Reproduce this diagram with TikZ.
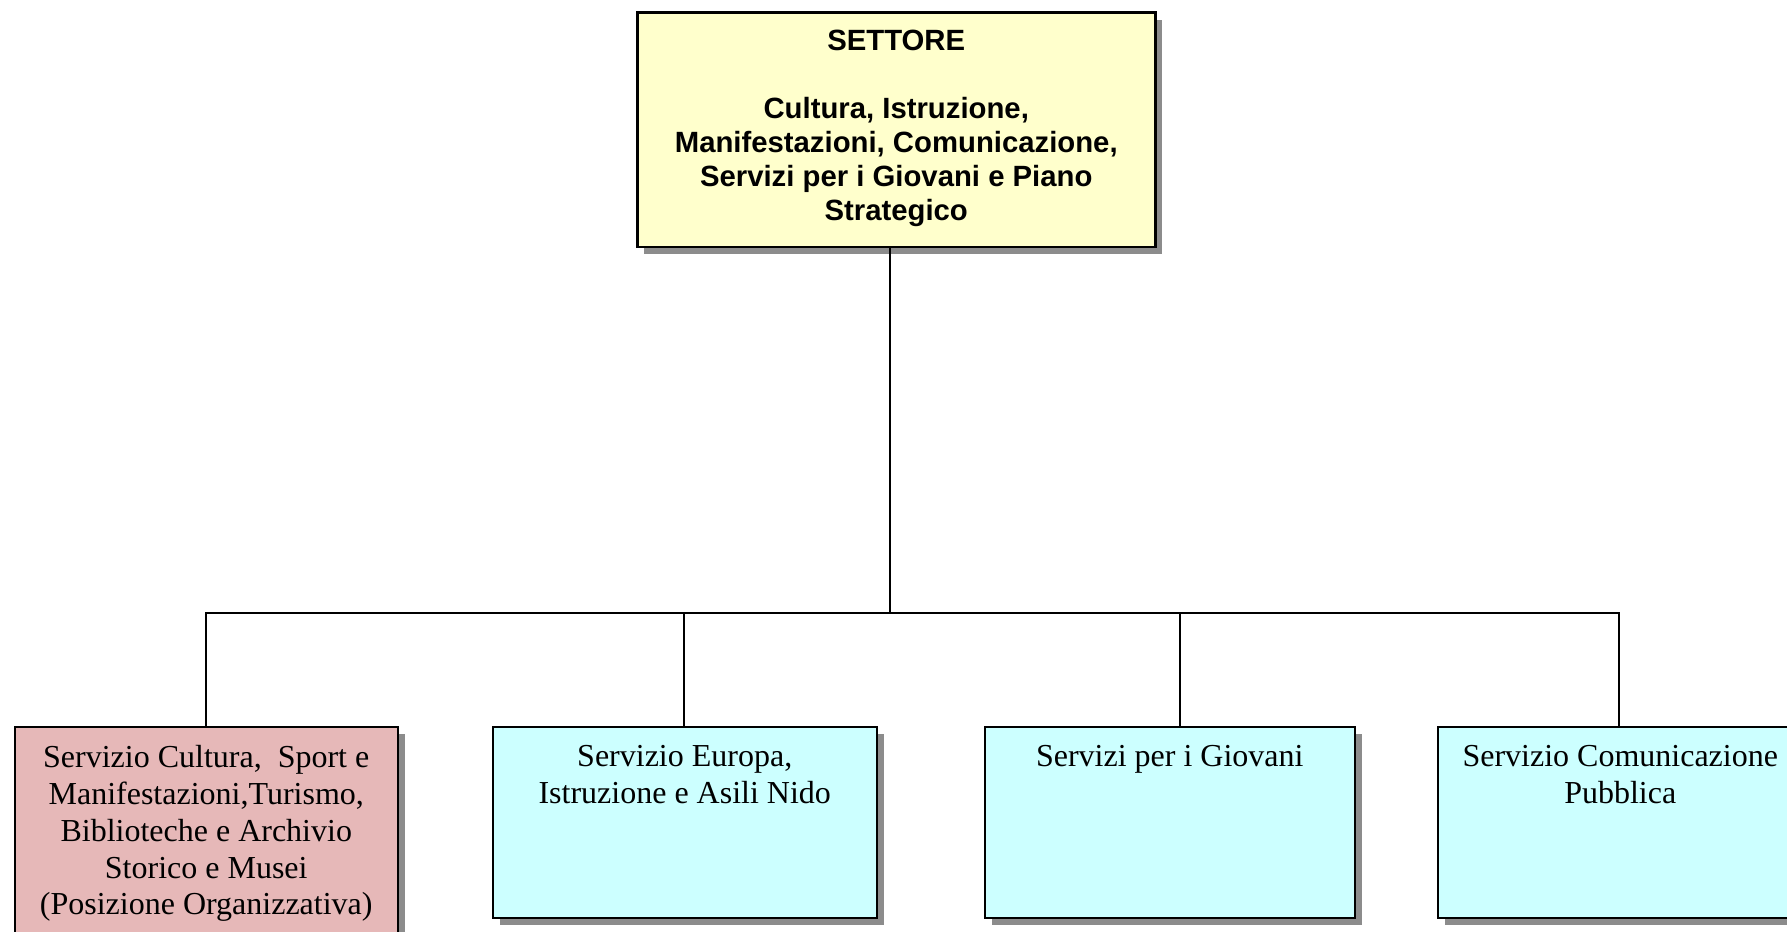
\documentclass[tikz,border=0pt]{standalone}
\usepackage{fontspec}
\setmainfont{Liberation Serif}
\newfontfamily\arialfont{Liberation Sans}
\usetikzlibrary{calc,shadows}
\definecolor{topfill}{RGB}{255,255,204}
\definecolor{pinkfill}{RGB}{230,184,184}
\definecolor{cyanfill}{RGB}{204,255,255}
\definecolor{shadowgray}{RGB}{140,140,140}
\begin{document}
\begin{tikzpicture}[x=1pt,y=-1pt,
  orgbox/.style={draw=black, line width=2.5pt, rectangle, inner sep=0pt, anchor=north west,
    drop shadow={shadow xshift=7pt, shadow yshift=-7pt, fill=shadowgray, opacity=1}},
  conn/.style={draw=black, line width=1.6pt},
  toptxt/.style={font=\arialfont\bfseries\fontsize{29.3}{34}\selectfont, align=center, anchor=north, inner sep=0pt},
  subtxt/.style={font=\fontsize{32}{36.7}\selectfont, align=center, anchor=north, inner sep=0pt}]
\clip (0,0) rectangle (1787,931);
\fill[white] (0,0) rectangle (1787,931);

% boxes
\node[orgbox, fill=topfill, minimum width=518pt, minimum height=234pt] (top) at (636,11.5) {};
\node[orgbox, fill=pinkfill, minimum width=383pt, minimum height=250pt] (c1) at (13.5,725.5) {};
\node[orgbox, fill=cyanfill, minimum width=384pt, minimum height=191pt] (c2) at (491.5,725.5) {};
\node[orgbox, fill=cyanfill, minimum width=370pt, minimum height=191pt] (c3) at (983.5,725.5) {};
\node[orgbox, fill=cyanfill, minimum width=365pt, minimum height=191pt] (c4) at (1436.5,725.5) {};

% texts
\node[toptxt] (toptext) at ($(top.north)+(0,18.5)$) {SETTORE\\[34pt]Cultura, Istruzione,\\Manifestazioni, Comunicazione,\\Servizi per i Giovani e Piano\\Strategico};
\node[subtxt] (t1) at ($(c1.north)+(0,20)$) {Servizio Cultura,~ Sport e\\Manifestazioni,Turismo,\\Biblioteche e Archivio\\Storico e Musei\\(Posizione Organizzativa)};
\node[subtxt] (t2) at ($(c2.north)+(0,20)$) {Servizio Europa,\\Istruzione e Asili Nido};
\node[subtxt] (t3) at ($(c3.north)+(0,20)$) {Servizi per i Giovani};
\node[subtxt] (t4) at ($(c4.north)+(0,20)$) {Servizio Comunicazione\\Pubblica};

% connectors
\coordinate (d0) at ($(top.south)+(-6,0)$);
\coordinate (bus) at ($(d0)+(0,365)$);
\coordinate (d1) at ($(c1.north)+(-0.5,0)$);
\coordinate (d2) at ($(c2.north)+(-0.5,0)$);
\coordinate (d3) at ($(c3.north)+(10,0)$);
\coordinate (d4) at ($(c4.north)+(-1.5,0)$);
\draw[conn] (d0) -- (bus);
\draw[conn] (d1) -- (d1 |- bus) -- (d4 |- bus) -- (d4);
\draw[conn] (d2) -- (d2 |- bus);
\draw[conn] (d3) -- (d3 |- bus);
\end{tikzpicture}
\end{document}
